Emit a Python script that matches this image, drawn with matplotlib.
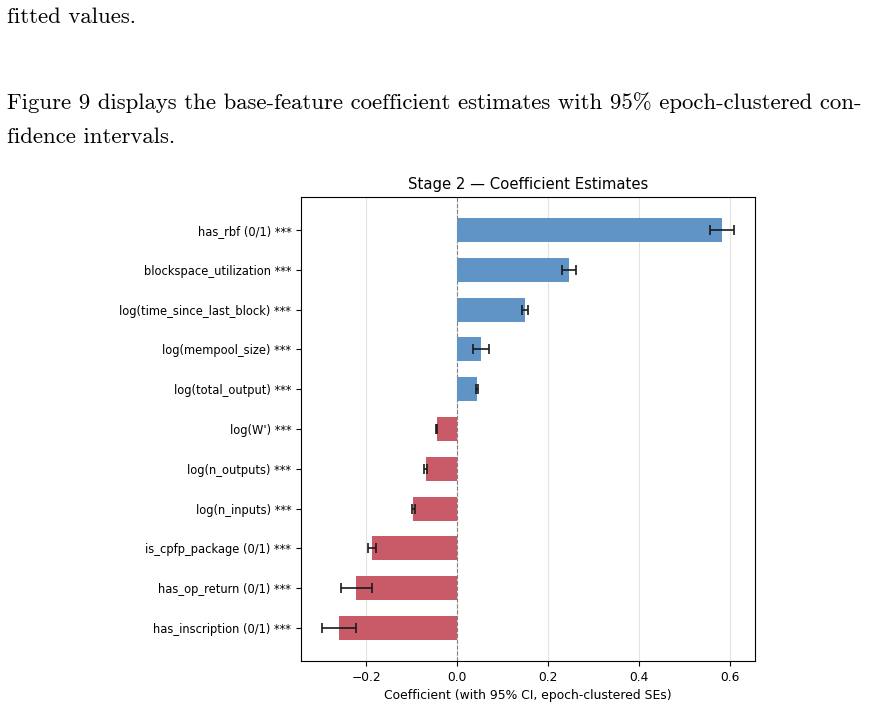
import matplotlib.pyplot as plt
import numpy as np

# features, top to bottom as shown
features = [
    "has_rbf (0/1) ***",
    "blockspace_utilization ***",
    "log(time_since_last_block) ***",
    "log(mempool_size) ***",
    "log(total_output) ***",
    "log(W') ***",
    "log(n_outputs) ***",
    "log(n_inputs) ***",
    "is_cpfp_package (0/1) ***",
    "has_op_return (0/1) ***",
    "has_inscription (0/1) ***",
]
coefs = [0.582, 0.246, 0.149, 0.053, 0.044, -0.045, -0.069, -0.096, -0.187, -0.221, -0.259]
ci_half = [0.027, 0.016, 0.007, 0.017, 0.002, 0.002, 0.004, 0.004, 0.009, 0.035, 0.038]

para_lines = [
    "fitted values.",
    "Figure 9 displays the base-feature coefficient estimates with 95% epoch-clustered con-",
    "fidence intervals.",
]

fig = plt.figure(figsize=(8.75, 7.05), dpi=100)

# surrounding document text
fig.text(7 / 875, 1 - 17 / 705, para_lines[0], family="cmr10", fontsize=16.4, va="center", ha="left")
fig.text(7 / 875, 1 - 103 / 705, para_lines[1], family="cmr10", fontsize=16.4, va="center", ha="left")
fig.text(7 / 875, 1 - 137 / 705, para_lines[2], family="cmr10", fontsize=16.4, va="center", ha="left")

ax = fig.add_axes([301 / 875, 44 / 705, 454 / 875, 464 / 705])
y = np.arange(len(features))[::-1]
colors = ["#6194c6" if c > 0 else "#c95b68" for c in coefs]
ax.barh(y, coefs, height=0.6, color=colors, zorder=2)
ax.errorbar(coefs, y, xerr=ci_half, fmt="none", ecolor="#1a1a1a", elinewidth=1.2,
            capsize=3.5, capthick=1.2, zorder=3)
ax.axvline(0, color="grey", linestyle="--", linewidth=0.8, zorder=1)
ax.set_yticks(y)
ax.set_yticklabels(features, fontsize=8.3)
ax.tick_params(axis="x", labelsize=8.8)
ax.set_xlim(-0.343, 0.655)
ax.set_xticks([-0.2, 0.0, 0.2, 0.4, 0.6])
ax.grid(axis="x", color="#e3e3e3", linewidth=0.8, zorder=0)
ax.set_axisbelow(True)
ax.set_xlabel("Coefficient (with 95% CI, epoch-clustered SEs)", fontsize=8.9)
ax.set_title("Stage 2 \u2014 Coefficient Estimates", fontsize=10.7)

fig.savefig("out.png", dpi=100)
